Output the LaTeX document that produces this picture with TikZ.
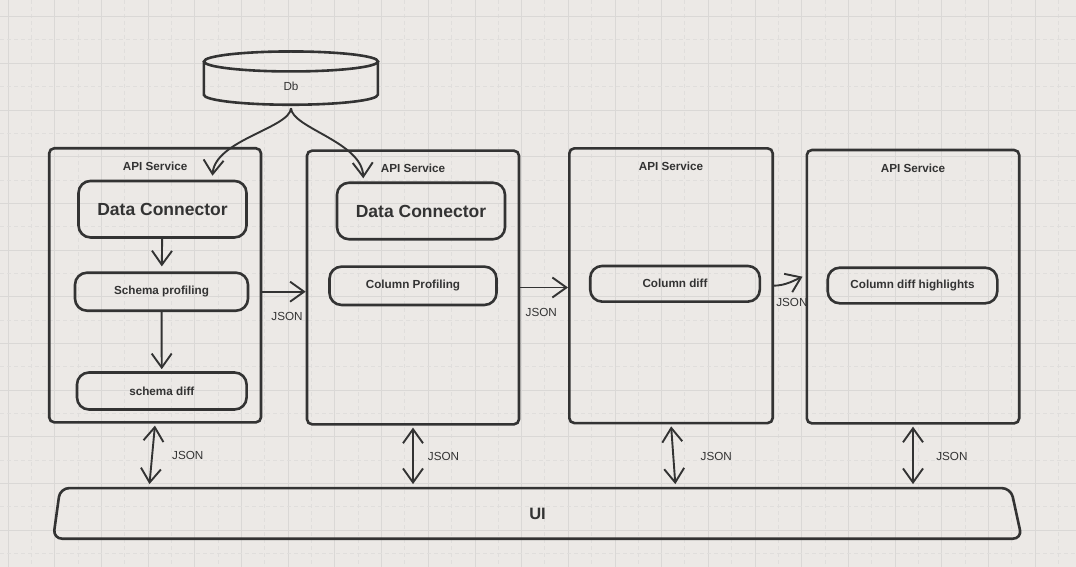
\documentclass[tikz,border=0pt]{standalone}
\usepackage{fontspec}
\setmainfont{Liberation Sans}
\usetikzlibrary{arrows.meta,positioning}

\definecolor{fondo}{HTML}{ECE9E6}
\definecolor{rejilla}{HTML}{DAD8D6}
\definecolor{rejillaclara}{HTML}{E0DEDC}
\definecolor{trazo}{HTML}{333333}

\tikzset{
  lineamayor/.style={draw=rejilla, line width=1pt},
  lineamenor/.style={draw=rejillaclara, line width=1pt, dash pattern=on 4pt off 3pt},
  servicio/.style={draw=trazo, line width=2.6pt, rounded corners=5pt, inner sep=0pt},
  modulo/.style={draw=trazo, line width=2.6pt, rounded corners=12pt, inner sep=0pt, minimum height=37pt,
    text=trazo, font=\fontsize{11.7pt}{14pt}\selectfont\bfseries},
  conector/.style={modulo, minimum height=56.5pt, font=\fontsize{17.5pt}{20pt}\selectfont\bfseries},
  titulo/.style={inner sep=0pt, text=trazo, font=\fontsize{11.7pt}{14pt}\selectfont\bfseries},
  etiqueta/.style={inner sep=0pt, text=trazo, font=\fontsize{11.7pt}{14pt}\selectfont},
  flecha/.style={draw=trazo, line width=1.9pt, -{Straight Barb[length=14pt,width=20pt]}},
  doble/.style={draw=trazo, line width=1.9pt, shorten <=2pt, shorten >=4pt,
    {Straight Barb[length=14pt,width=20pt]}-{Straight Barb[length=14pt,width=20pt]}},
}

\begin{document}
\begin{tikzpicture}[x=1pt, y=-1pt]

    % Fondo y rejilla
    \useasboundingbox[fill=fondo] (0,0) rectangle (1076,567);
    \foreach \k in {0,...,22} {
        \draw[lineamenor] ({31.6+46.67*\k},0) -- ({31.6+46.67*\k},567);
        \draw[lineamayor] ({8.3+46.67*\k},0) -- ({8.3+46.67*\k},567);
    }
    \foreach \k in {0,...,11} {
        \draw[lineamenor] (0,{40+46.67*\k}) -- (1076,{40+46.67*\k});
        \draw[lineamayor] (0,{16.7+46.67*\k}) -- (1076,{16.7+46.67*\k});
    }

    % Base de datos
    \node[minimum width=174pt, minimum height=53.3pt, inner sep=0pt] (db) at (291,78.3) {};
    \draw[trazo, line width=2.6pt] ([yshift=-10pt]db.north) ellipse [x radius=87pt, y radius=10pt];
    \draw[trazo, line width=2.6pt] (db.north west) ++(0,10) -- ++(0,33.3)
        arc[start angle=180, end angle=360, x radius=87pt, y radius=10pt] -- ++(0,-33.3);
    \node[etiqueta] (dbtxt) at ([yshift=-8.4pt]db.center) {Db};

    % Servicios API
    \node[servicio, minimum width=211.8pt, minimum height=274pt] (svc1) at (155.1,285.3) {};
    \node[servicio, minimum width=212pt, minimum height=273.6pt] (svc2) at (413,287.5) {};
    \node[servicio, minimum width=203.4pt, minimum height=274.7pt] (svc3) at (671,285.7) {};
    \node[servicio, minimum width=212.4pt, minimum height=273.3pt] (svc4) at (913,286.7) {};
    \node[titulo] (tit1) at ([yshift=-19.4pt]svc1.north) {API Service};
    \node[titulo] (tit2) at ([yshift=-19.4pt]svc2.north) {API Service};
    \node[titulo] (tit3) at ([yshift=-19.4pt]svc3.north) {API Service};
    \node[titulo] (tit4) at ([yshift=-19.4pt]svc4.north) {API Service};

    % Modulos internos
    \node[conector, minimum width=168pt] (dc1) at (162.5,209.2) {Data Connector};
    \node[conector, minimum width=168pt] (dc2) at (421,211) {Data Connector};
    \node[modulo, minimum width=173pt, minimum height=38pt] (sp) at (161.5,291.7) {Schema profiling};
    \node[modulo, minimum width=169.6pt] (sd) at (161.8,391) {schema diff};
    \node[modulo, minimum width=167pt, minimum height=38.3pt] (cp) at (413,285.8) {Column Profiling};
    \node[modulo, minimum width=169.6pt, minimum height=35.7pt] (cd) at (675,283.8) {Column diff};
    \node[modulo, minimum width=169.6pt, minimum height=35.6pt] (cdh) at (912.5,285.5) {Column diff highlights};

    % Interfaz
    \node[minimum width=968.3pt, minimum height=50.2pt, inner sep=0pt, text=trazo,
        font=\fontsize{16.5pt}{20pt}\selectfont\bfseries] (ui) at (537.5,513.4) {UI};
    \draw[trazo, line width=2.6pt, rounded corners=9pt] ([xshift=7pt]ui.north west)
        -- ([xshift=-11pt]ui.north east) -- (ui.south east) -- (ui.south west) -- cycle;

    % Flechas desde la base de datos
    \coordinate (ent1) at (212.5,175.7);
    \coordinate (ent2) at (363.3,178.3);
    \draw[flecha] ([yshift=-3pt]db.south) .. controls (290,128) and (215,140) .. (ent1);
    \draw[flecha] ([yshift=-3pt]db.south) .. controls (292,128) and (362,142) .. (ent2);

    % Flechas internas
    \draw[flecha, shorten >=5pt] (dc1) -- (sp);
    \draw[flecha, shorten >=2pt] (sp) -- (sd);

    % Flechas entre servicios
    \draw[flecha] (sp.east -| svc1.east) -- (sp.east -| svc2.west)
        node[etiqueta, pos=0.57, yshift=-24.3pt] (j1) {JSON};
    \draw[flecha] (svc2.east) -- (svc2.east -| svc3.west)
        node[etiqueta, pos=0.44, yshift=-24.5pt] (j2) {JSON};
    \draw[flecha] (svc3.east) .. controls (786,285.5) and (795,280) .. ([xshift=-3pt,yshift=10pt]svc4.west)
        node[etiqueta, pos=0.5, xshift=2pt, yshift=-20pt] (j3) {JSON};

    % Flechas hacia la interfaz
    \draw[doble] (svc1.south) -- ([xshift=-6pt]svc1.south |- ui.north)
        node[etiqueta, midway, xshift=35.7pt] (j4) {JSON};
    \draw[doble] (svc2.south) -- (svc2.south |- ui.north)
        node[etiqueta, midway, xshift=30.5pt] (j5) {JSON};
    \draw[doble] (svc3.south) -- ([xshift=4.6pt]svc3.south |- ui.north)
        node[etiqueta, midway, xshift=43pt] (j6) {JSON};
    \draw[doble] (svc4.south) -- (svc4.south |- ui.north)
        node[etiqueta, midway, xshift=38.9pt] (j7) {JSON};

\end{tikzpicture}
\end{document}
